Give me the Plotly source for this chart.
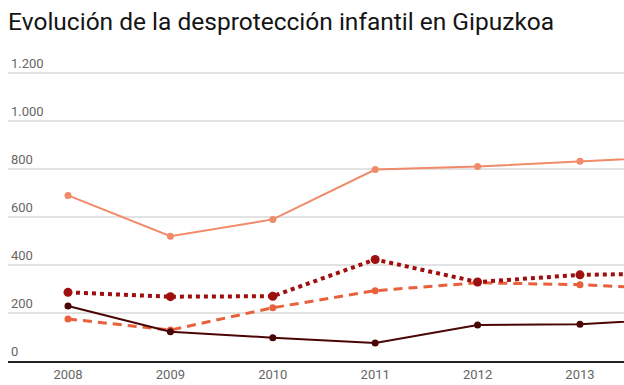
import plotly.graph_objects as go

years = [2008, 2009, 2010, 2011, 2012, 2013, 2014]
serie_a = [690, 520, 590, 798, 810, 832, 853]   # light orange solid
serie_b = [286, 268, 270, 423, 329, 359, 365]   # dark red dotted
serie_c = [175, 129, 222, 293, 326, 318, 297]   # orange-red dashed
serie_d = [229, 122, 97, 75, 150, 153, 178]     # darkest solid

y_tickvals = [0, 200, 400, 600, 800, 1000, 1200]
y_ticktext = ["0", "200", "400", "600", "800", "1.000", "1.200"]
x_tickvals = [2008, 2009, 2010, 2011, 2012, 2013]
x_ticktext = ["2008", "2009", "2010", "2011", "2012", "2013"]

fig = go.Figure()
fig.add_trace(go.Scatter(x=years, y=serie_a, mode="lines+markers",
                         line=dict(color="#f08a68", width=2),
                         marker=dict(color="#f08a68", size=7)))
fig.add_trace(go.Scatter(x=years, y=serie_c, mode="lines+markers",
                         line=dict(color="#e8603c", width=3, dash="9px,6px"),
                         marker=dict(color="#e8603c", size=7)))
fig.add_trace(go.Scatter(x=years, y=serie_b, mode="lines+markers",
                         line=dict(color="#9e1010", width=4, dash="4px,4px"),
                         marker=dict(color="#9e1010", size=9)))
fig.add_trace(go.Scatter(x=years, y=serie_d, mode="lines+markers",
                         line=dict(color="#4a0505", width=2),
                         marker=dict(color="#4a0505", size=7)))

fig.update_layout(
    width=624, height=385,
    margin=dict(l=8, r=0, t=49, b=24),
    paper_bgcolor="white", plot_bgcolor="white",
    showlegend=False,
    font=dict(family="Roboto", color="#666666", size=13),
    title=dict(text="Evolución de la desprotección infantil en Gipuzkoa",
               x=0.013, xanchor="left", y=0.945, yanchor="middle",
               font=dict(family="Roboto", size=24.5, color="#151515")),
)
fig.update_xaxes(range=[2007.414, 2013.43], tickvals=x_tickvals, ticktext=x_ticktext,
                 showgrid=False, showline=True, linecolor="#222222", linewidth=2,
                 ticks="", zeroline=False, tickfont=dict(size=13, color="#666666"))
fig.update_yaxes(range=[0, 1300], tickvals=y_tickvals, ticktext=y_ticktext,
                 showgrid=True, gridcolor="#e2e2e2", gridwidth=2,
                 zeroline=False, ticks="", ticklabelposition="inside top",
                 tickfont=dict(size=13, color="#666666"))

fig.write_html("out.html", config={"displayModeBar": False},
               post_script="document.body.style.margin='0';")
